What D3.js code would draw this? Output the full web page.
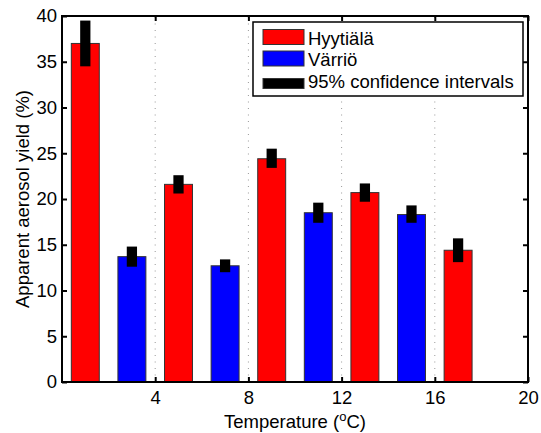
<!DOCTYPE html>
<html>
<head>
<meta charset="utf-8">
<script src="https://cdn.jsdelivr.net/npm/d3@7"></script>
<style>
  body { margin: 0; background: #fff; }
  text { font-family: "Liberation Sans", Arial, sans-serif; }
</style>
</head>
<body>
<div class="chart"></div>
<script>
// data
const temps = [1, 3, 5, 7, 9, 11, 13, 15, 17];
const sites = ['Hyytiälä', 'Värriö', 'Hyytiälä', 'Värriö', 'Hyytiälä', 'Värriö', 'Hyytiälä', 'Värriö', 'Hyytiälä'];
const yields = [37.0, 13.7, 21.6, 12.7, 24.4, 18.5, 20.7, 18.3, 14.4];
const ciLow = [34.5, 12.6, 20.6, 12.0, 23.4, 17.4, 19.7, 17.4, 13.1];
const ciHigh = [39.5, 14.8, 22.6, 13.4, 25.5, 19.6, 21.7, 19.3, 15.7];
const xTicks = [4, 8, 12, 16, 20];
const yTicks = [0, 5, 10, 15, 20, 25, 30, 35, 40];
const legendLabels = ['Hyytiälä', 'Värriö', '95% confidence intervals'];

const width = 541, height = 433;
const pLeft = 62, pRight = 528, pTop = 16, pBottom = 382;

const colour = {'Hyytiälä': '#ff0000', 'Värriö': '#0000ff'};

const svg = d3.select('.chart')
    .append('svg')
    .attr('width', width)
    .attr('height', height);

const x = d3.scaleLinear().domain([0, 20]).range([pLeft, pRight]);
const y = d3.scaleLinear().domain([0, 40]).range([pBottom, pTop]);

// dotted grid at x ticks
svg.selectAll('.grid')
    .data(xTicks.slice(0, -1))
    .enter().append('line')
    .attr('x1', d => x(d)).attr('x2', d => x(d))
    .attr('y1', pBottom).attr('y2', pTop)
    .attr('stroke', '#999')
    .attr('stroke-width', 1)
    .attr('stroke-dasharray', '1,5.5');

const barW = 1.2;

svg.selectAll('.bar')
    .data(temps)
    .enter().append('rect')
    .attr('x', (d, i) => x(d - barW / 2))
    .attr('y', (d, i) => y(yields[i]))
    .attr('width', x(barW) - x(0))
    .attr('height', (d, i) => y(0) - y(yields[i]))
    .attr('fill', (d, i) => colour[sites[i]])
    .attr('stroke', '#333')
    .attr('stroke-width', 1);

const ciW = 0.44;
svg.selectAll('.ci')
    .data(temps)
    .enter().append('rect')
    .attr('x', d => x(d - ciW / 2))
    .attr('y', (d, i) => y(ciHigh[i]))
    .attr('width', x(ciW) - x(0))
    .attr('height', (d, i) => y(ciLow[i]) - y(ciHigh[i]))
    .attr('fill', '#000');

// axes, ticks pointing inward
const fs = '18.5px';
const gx = svg.append('g')
    .attr('transform', `translate(0,${pBottom})`)
    .call(d3.axisBottom(x).tickValues(xTicks).tickSizeInner(-5).tickSizeOuter(0).tickPadding(9));
const gxTop = svg.append('g')
    .attr('transform', `translate(0,${pTop})`)
    .call(d3.axisTop(x).tickValues(xTicks).tickSizeInner(-5).tickSizeOuter(0).tickFormat(''));
const gy = svg.append('g')
    .attr('transform', `translate(${pLeft},0)`)
    .call(d3.axisLeft(y).tickValues(yTicks).tickSizeInner(-5).tickSizeOuter(0).tickPadding(5));
const gyRight = svg.append('g')
    .attr('transform', `translate(${pRight},0)`)
    .call(d3.axisRight(y).tickValues(yTicks).tickSizeInner(-5).tickSizeOuter(0).tickFormat(''));

[gx, gxTop, gy, gyRight].forEach(g => {
    g.select('.domain').remove();
    g.selectAll('line').attr('stroke', '#000').attr('stroke-width', 2);
    g.selectAll('text').attr('fill', '#000').style('font-size', fs)
        .style('font-family', '"Liberation Sans", Arial, sans-serif');
});

svg.append('rect')
    .attr('x', pLeft).attr('y', pTop)
    .attr('width', pRight - pLeft).attr('height', pBottom - pTop)
    .attr('fill', 'none')
    .attr('stroke', '#000')
    .attr('stroke-width', 2);

// axis labels
const xl = svg.append('text')
    .attr('x', x(10)).attr('y', 428)
    .attr('text-anchor', 'middle')
    .style('font-size', fs);
xl.append('tspan').text('Temperature (');
xl.append('tspan').attr('dy', -7).style('font-size', '13px').text('o');
xl.append('tspan').attr('dy', 7).text('C)');

svg.append('text')
    .attr('transform', `translate(29,${(pTop + pBottom) / 2}) rotate(-90)`)
    .attr('text-anchor', 'middle')
    .style('font-size', fs)
    .text('Apparent aerosol yield (%)');

// legend
const lg = svg.append('g');
lg.append('rect')
    .attr('x', 253).attr('y', 22)
    .attr('width', 270).attr('height', 74)
    .attr('fill', '#fff')
    .attr('stroke', '#000')
    .attr('stroke-width', 1.5);

const swatch = [colour['Hyytiälä'], colour['Värriö'], '#000'];
const swY = [29.5, 51, 78.5];
const swH = [15, 15, 10];
const textY = [44.5, 66, 88];
legendLabels.forEach((lab, i) => {
    lg.append('rect')
        .attr('x', 263).attr('y', swY[i])
        .attr('width', 41).attr('height', swH[i])
        .attr('fill', swatch[i])
        .attr('stroke', '#333').attr('stroke-width', 1);
    lg.append('text')
        .attr('x', 308).attr('y', textY[i])
        .style('font-size', fs)
        .text(lab);
});
</script>
</body>
</html>
